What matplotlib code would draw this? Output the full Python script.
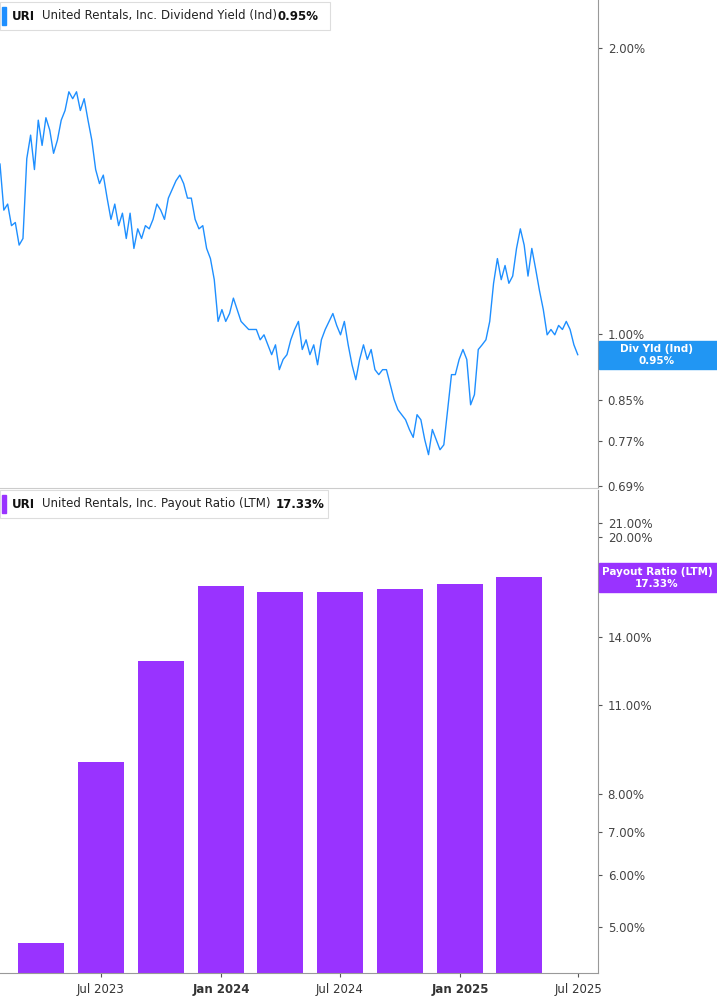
import matplotlib
matplotlib.use("Agg")
import matplotlib.pyplot as plt
import numpy as np
import pandas as pd

# ---- data ----
yield_vals = [1.51,1.35,1.37,1.30,1.31,1.24,1.26,1.53,1.62,1.49,1.68,1.58,1.69,1.64,1.55,1.60,1.68,1.72,1.80,1.77,1.80,1.72,1.77,1.68,1.60,1.49,1.44,1.47,1.39,1.32,1.37,1.30,1.34,1.26,1.34,1.23,1.29,1.26,1.30,1.29,1.32,1.37,1.35,1.32,1.39,1.42,1.45,1.47,1.44,1.39,1.39,1.32,1.29,1.30,1.23,1.20,1.14,1.03,1.06,1.03,1.05,1.09,1.06,1.03,1.02,1.01,1.01,1.01,0.985,0.997,0.973,0.95,0.973,0.916,0.939,0.95,0.985,1.01,1.03,0.962,0.985,0.95,0.973,0.927,0.985,1.01,1.03,1.05,1.02,0.997,1.03,0.973,0.927,0.894,0.939,0.973,0.939,0.962,0.916,0.905,0.916,0.916,0.883,0.852,0.831,0.821,0.811,0.792,0.777,0.821,0.811,0.773,0.745,0.792,0.773,0.754,0.763,0.831,0.905,0.905,0.939,0.962,0.939,0.841,0.862,0.962,0.973,0.985,1.03,1.13,1.20,1.14,1.18,1.13,1.15,1.23,1.29,1.24,1.15,1.23,1.17,1.11,1.06,0.997,1.01,0.997,1.02,1.01,1.03,1.01,0.973,0.95]
yield_start, yield_end = "2023-01-28", "2025-06-30"
bar_dates = ["2023-04-01","2023-07-01","2023-10-01","2024-01-01","2024-04-01","2024-07-01","2024-10-01","2025-01-01","2025-04-01"]
payout_vals = [4.71,8.96,12.82,16.74,16.40,16.40,16.60,16.86,17.33]
yield_ticks = [0.69,0.77,0.85,1.00,2.00]
payout_ticks = [5,6,7,8,11,14,20,21]
x_ticks = ["2023-07-01","2024-01-01","2024-07-01","2025-01-01","2025-07-01"]
x_labels = ["Jul 2023","Jan 2024","Jul 2024","Jan 2025","Jul 2025"]

BLUE = "#1E8FFF"
PURPLE = "#9933FF"
GRAY = "#555555"

W, H = 717, 1005
fig = plt.figure(figsize=(W/100, H/100), dpi=100)
xl = (pd.Timestamp("2023-01-28"), pd.Timestamp("2025-07-31"))

def ax_rect(x0, y0, x1, y1):
    return [x0/W, 1-y1/H, (x1-x0)/W, (y1-y0)/H]

ax1 = fig.add_axes(ax_rect(0, 0, 598, 488))
ax2 = fig.add_axes(ax_rect(0, 490, 598, 973))

dates = pd.date_range(yield_start, yield_end, periods=len(yield_vals))
ax1.plot(dates, yield_vals, color=BLUE, lw=1.0)
ax1.set_yscale("log")
ax1.set_ylim(0.687, 2.25)

bd = pd.to_datetime(bar_dates)
ax2.bar(bd, payout_vals, width=70, color=PURPLE, bottom=0.01)
ax2.set_yscale("log")
ax2.set_ylim(4.24, 23.6)

for ax in (ax1, ax2):
    ax.set_xlim(*xl)
    for s in ("top", "left"):
        ax.spines[s].set_visible(False)
    ax.spines["right"].set_color("#999999")
    ax.spines["bottom"].set_color("#cccccc")
    ax.yaxis.tick_right()
    ax.yaxis.set_minor_locator(matplotlib.ticker.NullLocator())
    ax.tick_params(axis="y", length=3, color=GRAY, labelsize=8.5, labelcolor="#444444", pad=4)

ax1.set_yticks(yield_ticks)
ax1.set_yticklabels([f"{v:.2f}%" for v in yield_ticks])
ax1.set_xticks([])
ax2.set_yticks(payout_ticks)
ax2.set_yticklabels([f"{v:.2f}%" for v in payout_ticks])
ax2.spines["bottom"].set_color("#999999")
ax2.set_xticks(pd.to_datetime(x_ticks))
ax2.set_xticklabels(x_labels)
ax2.tick_params(axis="x", length=3, color=GRAY, labelsize=8.5, labelcolor="#333333", pad=4)
for lab in ax2.get_xticklabels():
    if lab.get_text().startswith("Jan"):
        lab.set_fontweight("bold")

# legends
def legend(y, color, name, value, vx, boxw):
    fig.patches.append(matplotlib.patches.Rectangle((0, 1-(y+14)/H), boxw/W, 28/H, transform=fig.transFigure,
                                                    facecolor="white", edgecolor="#dddddd", lw=0.8))
    fig.patches.append(matplotlib.patches.Rectangle((2/W, 1-(y+9)/H), 4/W, 18/H, transform=fig.transFigure, color=color))
    fig.text(12/W, 1-y/H, "URI", fontsize=8.5, fontweight="bold", va="center", color="#111111")
    fig.text(42/W, 1-y/H, "United Rentals, Inc.", fontsize=8.5, va="center", color="#222222")
    fig.text(161/W, 1-y/H, name, fontsize=8.5, va="center", color="#222222")
    fig.text(vx/W, 1-y/H, value, fontsize=8.5, fontweight="bold", va="center", color="#111111")

legend(16, BLUE, "Dividend Yield (Ind)", "0.95%", 278, 330)
legend(504, PURPLE, "Payout Ratio (LTM)", "17.33%", 276, 328)

# callouts
def callout(y0, y1, color, l1, l2):
    fig.patches.append(matplotlib.patches.Rectangle((599/W, 1-y1/H), 118/W, (y1-y0)/H, transform=fig.transFigure, color=color))
    ym = (y0+y1)/2
    fig.text(657/W, 1-(ym-6)/H, l1, fontsize=7.5, fontweight="bold", color="white", ha="center", va="center")
    fig.text(657/W, 1-(ym+6)/H, l2, fontsize=7.5, fontweight="bold", color="white", ha="center", va="center")

callout(341, 369, "#2196F3", "Div Yld (Ind)", "0.95%")
callout(563, 592, PURPLE, "Payout Ratio (LTM)", "17.33%")

fig.savefig("out.png", dpi=100)
